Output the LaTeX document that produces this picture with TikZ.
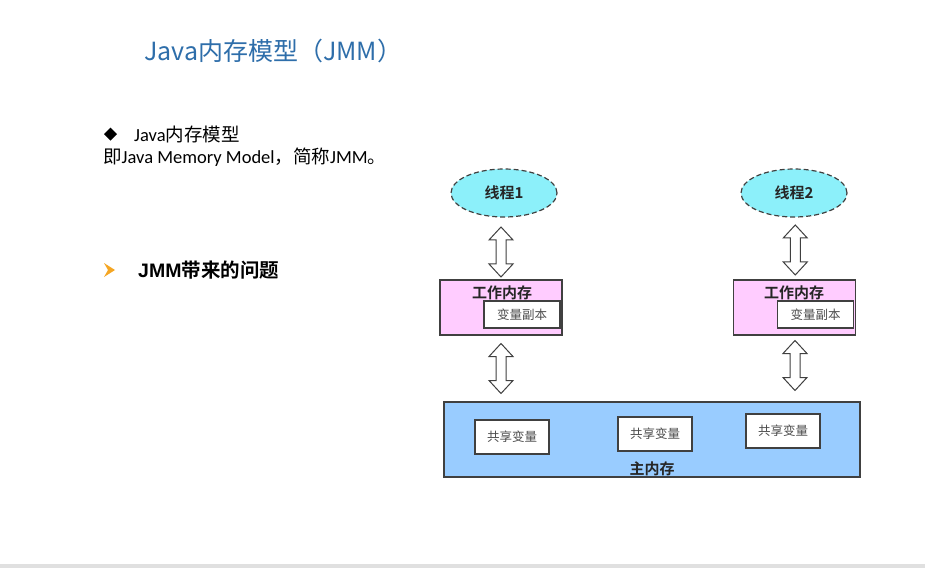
\documentclass[tikz,border=0pt]{standalone}
\usepackage{fontspec}
\setmainfont{Carlito}
\newfontfamily\cjk{Noto Sans CJK SC}
\newfontfamily\cjkb{Noto Sans CJK SC Bold}
\newfontfamily\arialb{Liberation Sans}[BoldFont={Liberation Sans Bold}]
\usetikzlibrary{shapes.geometric,calc}
\definecolor{titleblue}{RGB}{46,110,170}
\definecolor{threadcyan}{RGB}{140,240,250}
\definecolor{workpink}{RGB}{255,204,255}
\definecolor{mainblue}{RGB}{153,204,255}
\definecolor{edgegray}{RGB}{64,64,64}
\definecolor{bulletorange}{RGB}{245,166,35}
\tikzset{
  threadnode/.style={ellipse, draw=edgegray, dashed, dash pattern=on 5pt off 3pt, line width=1.2pt, fill=threadcyan, minimum width=106pt, minimum height=48pt, inner sep=0pt, font=\cjkb\fontsize{15}{18}\selectfont, text=black!85},
  workbox/.style={rectangle, draw=edgegray, line width=1.3pt, fill=workpink, minimum width=122pt, minimum height=55pt, inner sep=0pt},
  varbox/.style={rectangle, draw=edgegray, line width=1.3pt, fill=white, minimum width=76pt, minimum height=27pt, inner sep=0pt, font=\cjk\fontsize{12.5}{15}\selectfont, text=black!70},
  sharebox/.style={rectangle, draw=edgegray, line width=1.3pt, fill=white, minimum width=74pt, minimum height=34pt, inner sep=0pt, font=\cjk\fontsize{12.5}{15}\selectfont, text=black!70},
  mainbox/.style={rectangle, draw=edgegray, line width=1.3pt, fill=mainblue, minimum width=416pt, minimum height=75pt, inner sep=0pt},
  boldlabel/.style={inner sep=0pt, font=\cjkb\fontsize{15}{18}\selectfont, text=black!85},
  dblarrow/.pic={\draw[edgegray, line width=1pt, fill=white, line join=miter]
     (0,-25) -- (12,-12) -- (5,-12) -- (5,12) -- (12,12) -- (0,25) -- (-12,12) -- (-5,12) -- (-5,-12) -- (-12,-12) -- cycle;}
}
\begin{document}
\begin{tikzpicture}[x=1pt,y=-1pt]
\useasboundingbox (0,0) rectangle (925,568);
\fill[white] (0,0) rectangle (925,568);
\fill[black!12] (0,564) rectangle (925,568);

% title
\node[anchor=west, inner sep=0pt, text=titleblue, font=\cjk\fontsize{25}{29}\selectfont] (title) at (144,51) {Java内存模型（JMM）};

% bullet 1
\fill[black] (104,134) -- (110.5,127.5) -- (117,134) -- (110.5,140.5) -- cycle;
\node[anchor=west, inner sep=0pt, font=\fontsize{18.5}{21}\selectfont] (b1) at (134,134) {Java{\cjk 内存模型}};
\node[anchor=west, inner sep=0pt, font=\fontsize{18.5}{21}\selectfont] (b2) at (103,157) {{\cjk 即}Java Memory Model{\cjk ，简称}JMM{\cjk 。}};

% bullet 2
\fill[bulletorange] (104,263) -- (115,270) -- (104,277) -- (108,270) -- cycle;
\node[anchor=west, inner sep=0pt, font=\fontsize{19.5}{23}\selectfont] (b3) at (138,270) {{\arialb\bfseries JMM}{\cjkb 带来的问题}};

% threads
\node[threadnode] (t1) at (504,193) {线程1};
\node[threadnode] (t2) at (794,193) {线程2};

% working memories
\node[workbox] (w1) at (501,307.5) {};
\node[workbox] (w2) at (794.5,307.5) {};
\node[boldlabel] (w1l) at (502,292.5) {工作内存};
\node[boldlabel] (w2l) at (794,292.5) {工作内存};
\node[varbox] (v1) at (522,314.5) {变量副本};
\node[varbox] (v2) at (815.5,314.5) {变量副本};

% main memory
\node[mainbox] (m) at (652,439.5) {};
\node[sharebox] (s1) at (512,437) {共享变量};
\node[sharebox] (s2) at (655,434) {共享变量};
\node[sharebox] (s3) at (783,431) {共享变量};
\node[boldlabel] (ml) at (652,469) {主内存};

% double arrows
\pic at ($(t1.south)!0.5!(w1.north)+(-1.5,3.5)$) {dblarrow};
\pic at ($(t2.south)!0.5!(w2.north)+(1,1.5)$) {dblarrow};
\pic at ($(w1.south)!0.5!(w1.south |- m.north)+(0,0)$) {dblarrow};
\pic at ($(w2.south)!0.5!(w2.south |- m.north)+(0.5,-3)$) {dblarrow};
\end{tikzpicture}
\end{document}
